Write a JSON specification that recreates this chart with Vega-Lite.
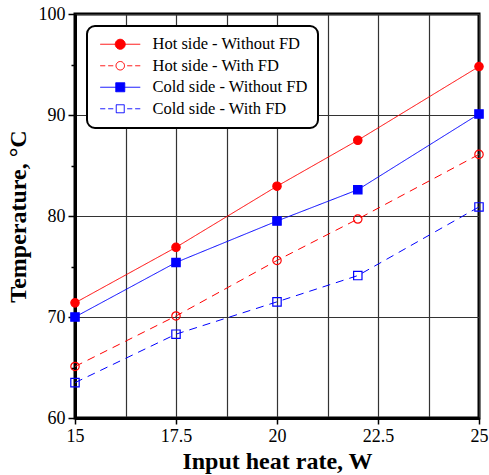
{
  "$schema": "https://vega.github.io/schema/vega-lite/v6.json",
  "width": 404,
  "height": 404,
  "autosize": {"type": "none"},
  "padding": {"left": 75, "top": 14, "right": 10, "bottom": 57},
  "config": {
    "font": "Liberation Serif",
    "style": {
      "guide-label": {"font": "Liberation Serif"},
      "guide-title": {"font": "Liberation Serif"}
    },
    "view": {"stroke": "black", "strokeWidth": 3},
    "axis": {
      "labelFont": "Liberation Serif",
      "titleFont": "Liberation Serif",
      "labelColor": "black",
      "titleColor": "black",
      "domainColor": "black",
      "domainWidth": 3,
      "tickColor": "black",
      "tickWidth": 1.5,
      "gridColor": "#333333",
      "gridWidth": 1.2,
      "gridOpacity": 1
    },
    "legend": {
      "labelFont": "Liberation Serif"
    }
  },
  "data": {
    "values": [
      {"power": 15, "temp": 71.4, "series": "Hot side - Without FD"},
      {"power": 17.5, "temp": 76.9, "series": "Hot side - Without FD"},
      {"power": 20, "temp": 82.95, "series": "Hot side - Without FD"},
      {"power": 22, "temp": 87.5, "series": "Hot side - Without FD"},
      {"power": 25, "temp": 94.8, "series": "Hot side - Without FD"},
      {"power": 15, "temp": 65.1, "series": "Hot side - With FD"},
      {"power": 17.5, "temp": 70.1, "series": "Hot side - With FD"},
      {"power": 20, "temp": 75.6, "series": "Hot side - With FD"},
      {"power": 22, "temp": 79.7, "series": "Hot side - With FD"},
      {"power": 25, "temp": 86.1, "series": "Hot side - With FD"},
      {"power": 15, "temp": 70.0, "series": "Cold side - Without FD"},
      {"power": 17.5, "temp": 75.4, "series": "Cold side - Without FD"},
      {"power": 20, "temp": 79.5, "series": "Cold side - Without FD"},
      {"power": 22, "temp": 82.6, "series": "Cold side - Without FD"},
      {"power": 25, "temp": 90.1, "series": "Cold side - Without FD"},
      {"power": 15, "temp": 63.5, "series": "Cold side - With FD"},
      {"power": 17.5, "temp": 68.3, "series": "Cold side - With FD"},
      {"power": 20, "temp": 71.5, "series": "Cold side - With FD"},
      {"power": 22, "temp": 74.1, "series": "Cold side - With FD"},
      {"power": 25, "temp": 80.9, "series": "Cold side - With FD"}
    ]
  },
  "encoding": {
    "x": {
      "field": "power",
      "type": "quantitative",
      "scale": {"domain": [15, 25], "nice": false, "zero": false},
      "axis": {
        "title": "Input heat rate, W",
        "titleFont": "Liberation Serif",
        "titleFontSize": 24,
        "titleFontWeight": "bold",
        "titlePadding": 4,
        "labelFont": "Liberation Serif",
        "labelFontSize": 18,
        "labelPadding": 3,
        "tickSize": 6,
        "values": [15, 16.25, 17.5, 18.75, 20, 21.25, 22.5, 23.75, 25],
        "labelExpr": "(datum.value - 15) % 2.5 === 0 ? format(datum.value, '~g') : ''",
        "tickOpacity": {"condition": {"test": "(datum.value - 15) % 2.5 === 0", "value": 1}, "value": 0},
        "grid": true,
        "labelFlush": false,
        "encode": {
          "labels": {
            "update": {
              "font": {"value": "Liberation Serif"}
            }
          }
        }
      }
    },
    "y": {
      "field": "temp",
      "type": "quantitative",
      "scale": {"domain": [60, 100], "nice": false, "zero": false},
      "axis": {
        "title": "Temperature, °C",
        "titleFont": "Liberation Serif",
        "titleFontSize": 24,
        "titleFontWeight": "bold",
        "titlePadding": 8,
        "labelFont": "Liberation Serif",
        "labelFontSize": 18,
        "labelPadding": 3,
        "values": [60, 65, 70, 75, 80, 85, 90, 95, 100],
        "labelExpr": "datum.value % 10 === 0 ? datum.label : ''",
        "tickSize": {"condition": {"test": "datum.value % 10 === 0", "value": 7}, "value": 4},
        "gridOpacity": {"condition": {"test": "datum.value % 10 === 0", "value": 1}, "value": 0},
        "grid": true,
        "labelFlush": false,
        "encode": {
          "labels": {
            "update": {
              "font": {"value": "Liberation Serif"}
            }
          }
        }
      }
    },
    "color": {
      "field": "series",
      "type": "nominal",
      "scale": {
        "domain": ["Hot side - Without FD", "Hot side - With FD", "Cold side - Without FD", "Cold side - With FD"],
        "range": ["#ff0000", "#ff0000", "#0000ff", "#0000ff"]
      },
      "legend": {
        "title": null,
        "orient": "none",
        "legendX": 12,
        "legendY": 12,
        "strokeColor": "black",
        "cornerRadius": 8,
        "fillColor": "white",
        "padding": 10,
        "labelFont": "Liberation Serif",
        "labelFontSize": 16.5,
        "labelColor": "black",
        "labelOffset": 39,
        "rowPadding": 4.5,
        "symbolSize": 100,
        "symbolStrokeWidth": 1,
        "encode": {
          "legend": {
            "update": {
              "strokeWidth": {"value": 2}
            }
          },
          "labels": {
            "update": {
              "font": {"value": "Liberation Serif"},
              "fontSize": {"value": 16.5},
              "fill": {"value": "black"}
            }
          },
          "symbols": {
            "update": {
              "shape": {"signal": "datum.value === 'Hot side - Without FD' ? 'M-1,0H7M4,0A1,1,0,1,1,2,0A1,1,0,1,1,4,0Z' : datum.value === 'Cold side - Without FD' ? 'M-1,0H7M2.1,-0.9H3.9V0.9H2.1Z' : datum.value === 'Hot side - With FD' ? 'M-1,0H0M0.6,0H1.6M4.4,0H5.4M6,0H7M3.85,0A0.85,0.85,0,1,1,2.15,0A0.85,0.85,0,1,1,3.85,0Z' : 'M-1,0H0M0.6,0H1.6M4.4,0H5.4M6,0H7M2.2,-0.8H3.8V0.8H2.2Z'"},
              "fill": {"signal": "datum.value === 'Hot side - Without FD' ? '#ff0000' : datum.value === 'Cold side - Without FD' ? '#0000ff' : 'transparent'"},
              "stroke": {"signal": "indexof(datum.value, 'Hot') >= 0 ? '#ff0000' : '#0000ff'"},
              "strokeDash": {"value": [1, 0]},
              "strokeWidth": {"value": 1},
              "opacity": {"value": 1}
            }
          }
        }
      }
    }
  },
  "layer": [
    {
      "mark": {"type": "line", "strokeWidth": 1},
      "encoding": {
        "strokeDash": {
          "condition": {"test": "datum.series === 'Hot side - With FD' || datum.series === 'Cold side - With FD'", "value": [8, 6]},
          "value": [1, 0]
        }
      }
    },
    {
      "mark": {"type": "point", "size": 70, "strokeWidth": 1.2, "opacity": 1, "filled": false},
      "encoding": {
        "shape": {
          "condition": {"test": "indexof(datum.series, 'Hot') >= 0", "value": "circle"},
          "value": "square"
        },
        "fill": {
          "condition": [
            {"test": "datum.series === 'Hot side - Without FD'", "value": "#ff0000"},
            {"test": "datum.series === 'Cold side - Without FD'", "value": "#0000ff"}
          ],
          "value": "transparent"
        }
      }
    }
  ]
}
